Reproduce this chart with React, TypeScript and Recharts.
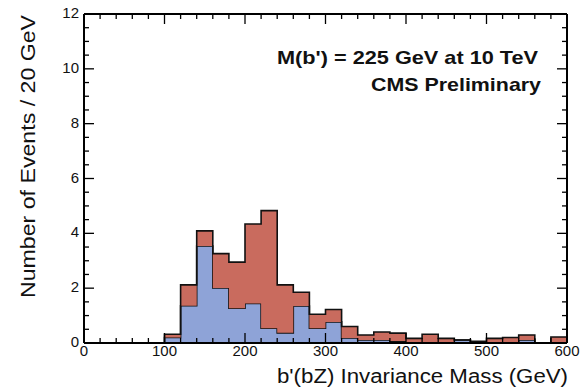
import React from 'react';
import { ComposedChart, Area, Line, XAxis, YAxis } from 'recharts';

// Histogram bins (GeV, lower edge, 20 GeV wide)
const binStarts = [0, 20, 40, 60, 80, 100, 120, 140, 160, 180, 200, 220, 240, 260, 280, 300, 320, 340, 360, 380, 400, 420, 440, 460, 480, 500, 520, 540, 560, 580];
// Background (blue) events per bin
const background = [0, 0, 0, 0, 0, 0.2, 1.36, 3.54, 2.01, 1.27, 1.44, 0.54, 0.37, 1.35, 0.54, 0.77, 0.18, 0.11, 0.11, 0.07, 0.02, 0.02, 0.02, 0.11, 0.02, 0.02, 0.02, 0.11, 0, 0];
// Signal b' (red) events per bin, stacked on top
const signal = [0, 0, 0, 0, 0, 0.12, 0.76, 0.55, 1.25, 1.68, 2.9, 4.29, 1.75, 0.5, 0.51, 0.45, 0.42, 0.18, 0.29, 0.29, 0.15, 0.3, 0.15, 0, 0.04, 0.15, 0.18, 0.18, 0, 0.22];
const upperEdge = 600;

const xTicks = [0, 100, 200, 300, 400, 500, 600];
const xMinorTicks = [0, 20, 40, 60, 80, 100, 120, 140, 160, 180, 200, 220, 240, 260, 280, 300, 320, 340, 360, 380, 400, 420, 440, 460, 480, 500, 520, 540, 560, 580, 600];
const yTicks = [0, 2, 4, 6, 8, 10, 12];
const yMinorTicks = [0, 0.5, 1, 1.5, 2, 2.5, 3, 3.5, 4, 4.5, 5, 5.5, 6, 6.5, 7, 7.5, 8, 8.5, 9, 9.5, 10, 10.5, 11, 11.5, 12];

const xTitle = "b'(bZ) Invariance Mass (GeV)";
const yTitle = 'Number of Events / 20 GeV';
const textLine1 = "M(b') = 225 GeV at 10 TeV";
const textLine2 = 'CMS Preliminary';

const data = binStarts
  .map((x, i) => ({ x, bg: background[i], sig: signal[i] }))
  .concat([{ x: upperEdge, bg: background[background.length - 1], sig: signal[signal.length - 1] }]);

const FONT = "'Liberation Sans', Arial, Helvetica, sans-serif";
const frameLine = { stroke: '#000', strokeWidth: 2 };
const TICK_W = 1.3;
const MAJ = 10;
const MIN = 5;

const BottomTick = (props: any) => {
  const { x, y, payload } = props;
  const major = xTicks.includes(payload.value);
  return (
    <g>
      <line x1={x} x2={x} y1={y} y2={y - (major ? MAJ : MIN)} stroke="#000" strokeWidth={TICK_W} />
      {major && (
        <text x={x} y={y + 13} textAnchor="middle" fontFamily={FONT} fontSize={15} fill="#111">
          {payload.value}
        </text>
      )}
    </g>
  );
};

const TopTick = (props: any) => {
  const { x, y, payload } = props;
  const major = xTicks.includes(payload.value);
  return <line x1={x} x2={x} y1={y} y2={y + (major ? MAJ : MIN)} stroke="#000" strokeWidth={TICK_W} />;
};

const LeftTick = (props: any) => {
  const { x, y, payload } = props;
  const major = yTicks.includes(payload.value);
  return (
    <g>
      <line x1={x} x2={x + (major ? MAJ : MIN)} y1={y} y2={y} stroke="#000" strokeWidth={TICK_W} />
      {major && (
        <text x={x - 5} y={y + 4} textAnchor="end" fontFamily={FONT} fontSize={15} fill="#111">
          {payload.value}
        </text>
      )}
    </g>
  );
};

const RightTick = (props: any) => {
  const { x, y, payload } = props;
  const major = yTicks.includes(payload.value);
  return <line x1={x} x2={x - (major ? MAJ : MIN)} y1={y} y2={y} stroke="#000" strokeWidth={TICK_W} />;
};

export default function App() {
  return (
    <div style={{ position: 'absolute', left: 0, top: 0, width: 584, height: 391, background: '#fff', fontFamily: FONT }}>
      <ComposedChart
        width={584}
        height={391}
        data={data}
        margin={{ top: 13, right: 16, bottom: 28, left: 83 }}
      >
        <XAxis xAxisId="main" dataKey="x" type="number" domain={[0, 600]} allowDataOverflow ticks={xMinorTicks} interval={0}
          tickLine={false} axisLine={frameLine} tickSize={0} tickMargin={0} height={20} tick={(p: any) => <BottomTick {...p} />} />
        <XAxis xAxisId="top" orientation="top" dataKey="x" type="number" domain={[0, 600]} allowDataOverflow ticks={xMinorTicks} interval={0}
          tickLine={false} axisLine={frameLine} tickSize={0} tickMargin={0} height={1} tick={(p: any) => <TopTick {...p} />} />
        <YAxis yAxisId="main" type="number" domain={[0, 12]} allowDataOverflow ticks={yMinorTicks} interval={0}
          width={1} tickSize={0} tickMargin={0} tickLine={false} axisLine={frameLine} tick={(p: any) => <LeftTick {...p} />} />
        <YAxis yAxisId="right" orientation="right" type="number" domain={[0, 12]} allowDataOverflow ticks={yMinorTicks} interval={0}
          width={1} tickSize={0} tickMargin={0} tickLine={false} axisLine={frameLine} tick={(p: any) => <RightTick {...p} />} />

        <Area xAxisId="main" yAxisId="main" type="stepAfter" dataKey="bg" stackId="h" fill="#8ea3d7" fillOpacity={1}
          stroke="#111" strokeWidth={1.6} isAnimationActive={false} dot={false} activeDot={false} />
        <Area xAxisId="main" yAxisId="main" type="stepAfter" dataKey="sig" stackId="h" fill="#c96b5e" fillOpacity={1}
          stroke="#111" strokeWidth={1.6} isAnimationActive={false} dot={false} activeDot={false} />
        <Line xAxisId="top" yAxisId="right" type="stepAfter" dataKey="bg" stroke="none" strokeOpacity={0}
          dot={false} activeDot={false} isAnimationActive={false} legendType="none" />
      </ComposedChart>
      <svg width={584} height={391} style={{ position: 'absolute', left: 0, top: 0, pointerEvents: 'none' }}>
        <text x={538} y={64} textAnchor="end" fontFamily={FONT} fontWeight="bold" fontSize={19} fill="#111"
          textLength={261} lengthAdjust="spacingAndGlyphs">{textLine1}</text>
        <text x={541} y={91} textAnchor="end" fontFamily={FONT} fontWeight="bold" fontSize={19} fill="#111"
          textLength={170} lengthAdjust="spacingAndGlyphs">{textLine2}</text>
        <text x={568} y={383} textAnchor="end" fontFamily={FONT} fontSize={20} fill="#111"
          textLength={291} lengthAdjust="spacingAndGlyphs">{xTitle}</text>
        <text x={0} y={0} transform="translate(35,15) rotate(-90)" textAnchor="end" fontFamily={FONT} fontSize={21} fill="#111"
          textLength={283} lengthAdjust="spacingAndGlyphs">{yTitle}</text>
      </svg>
    </div>
  );
}
